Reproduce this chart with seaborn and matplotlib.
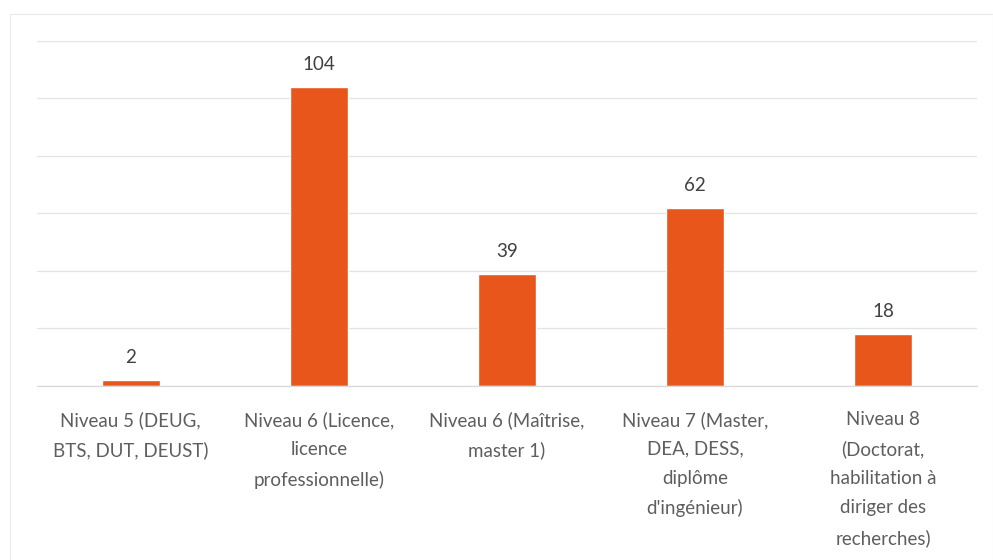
import pandas as pd
import matplotlib.pyplot as plt
import seaborn as sns
from matplotlib.patches import Rectangle

# Data
categories = [
    "Niveau 5 (DEUG,\nBTS, DUT, DEUST)",
    "Niveau 6 (Licence,\nlicence\nprofessionnelle)",
    "Niveau 6 (Maîtrise,\nmaster 1)",
    "Niveau 7 (Master,\nDEA, DESS,\ndiplôme\nd'ingénieur)",
    "Niveau 8\n(Doctorat,\nhabilitation à\ndiriger des\nrecherches)",
]
counts = [2, 104, 39, 62, 18]

data = pd.DataFrame({"Niveau": categories, "Effectif": counts})

sns.set_theme(style="white")
plt.rcParams['font.family'] = ['Lato', 'DejaVu Sans']

fig = plt.figure(figsize=(9.93, 5.6), dpi=100)
ax = fig.add_axes([0.037, 0.311, 0.947, 0.616])

sns.barplot(data=data, x="Niveau", y="Effectif", color="#E8561C",
            width=0.31, saturation=1, ax=ax)

ax.set_ylim(0, 120)
ax.set_yticks(range(0, 121, 20))
ax.yaxis.grid(True, color="#E3E3E3", linewidth=0.9)
ax.set_axisbelow(True)
ax.tick_params(axis="y", left=False, labelleft=False)
ax.tick_params(axis="x", bottom=False, pad=12)
ax.set_xticks(range(len(categories)))
ax.set_xticklabels(categories, fontsize=13.5, color="#5E5E5E",
                   linespacing=1.85, ha="center")
ax.set_xlabel("")
ax.set_ylabel("")
for s in ["top", "right", "left"]:
    ax.spines[s].set_visible(False)
ax.spines["bottom"].set_color("#D9D9D9")
ax.spines["bottom"].set_linewidth(0.9)

for c in ax.containers:
    ax.bar_label(c, padding=10, fontsize=13.5, color="#404040")

# light frame around the chart
fig.patches.append(Rectangle((0.01, -0.01), 0.99, 0.985, transform=fig.transFigure,
                             fill=False, edgecolor="#EAEAEA", linewidth=0.8))

fig.savefig("out.png", dpi=100)
